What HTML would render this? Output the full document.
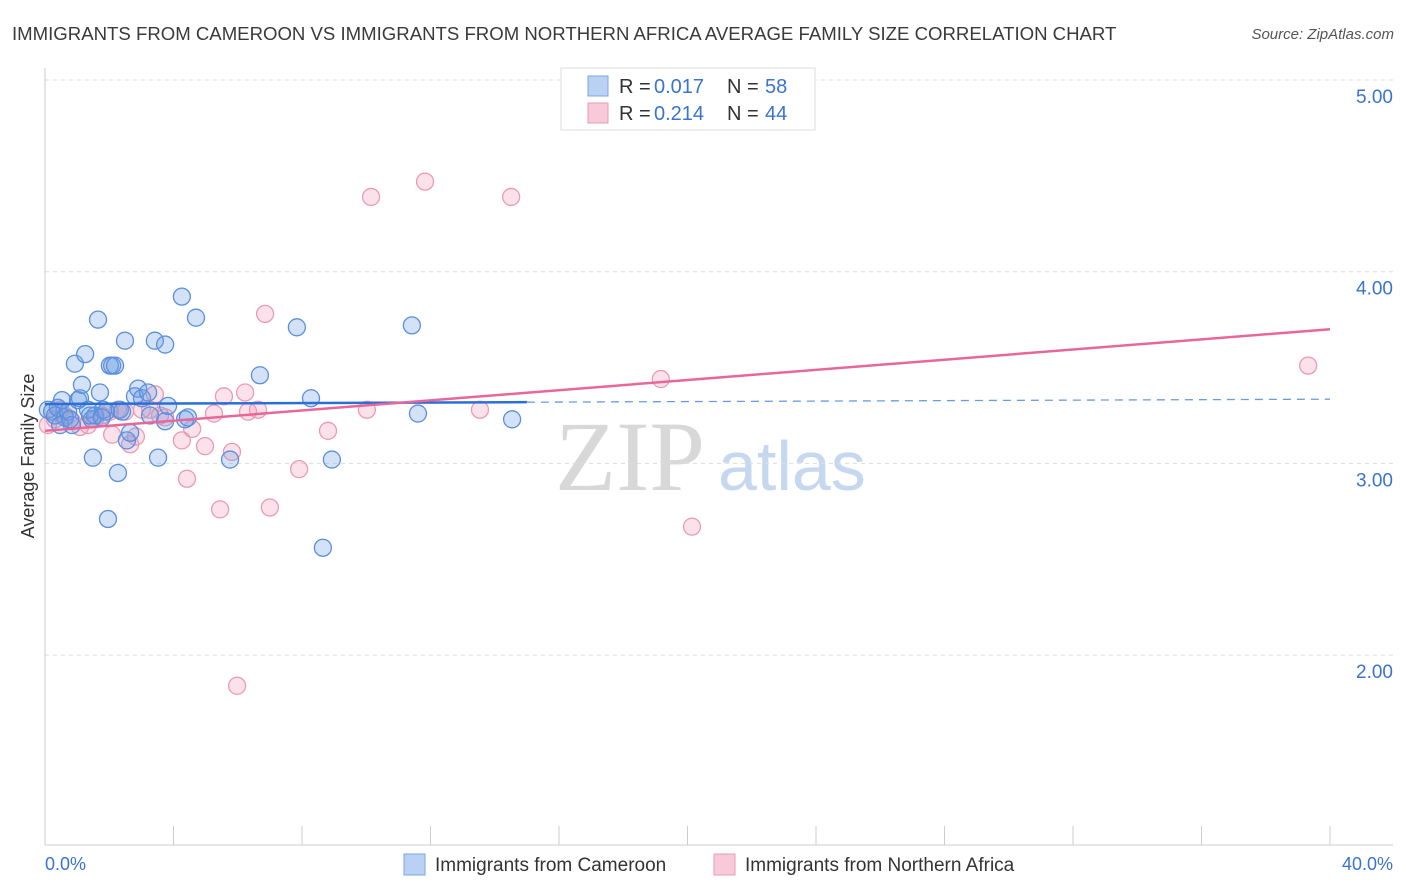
<!DOCTYPE html>
<html><head><meta charset="utf-8"><style>
body{margin:0;background:#fff;font-family:"Liberation Sans",sans-serif;}
svg{display:block}
</style></head><body>
<svg id="chart" width="1406" height="892" xmlns="http://www.w3.org/2000/svg">
<text x="12" y="40" font-size="18.6" fill="#3a3a3a">IMMIGRANTS FROM CAMEROON VS IMMIGRANTS FROM NORTHERN AFRICA AVERAGE FAMILY SIZE CORRELATION CHART</text>
<text x="1394" y="39" font-size="15" fill="#555" font-style="italic" text-anchor="end">Source: ZipAtlas.com</text>
<text x="555" y="490" font-size="100" fill="#d8d8d8" font-family="Liberation Serif,serif">ZIP</text>
<text x="718" y="490" font-size="70" fill="#c6d8f0">atlas</text>
<text transform="translate(34,456) rotate(-90)" font-size="18" fill="#333" text-anchor="middle">Average Family Size</text>
<g id="grid"></g><g id="marks"></g>
<g>
<rect x="561" y="68" width="254" height="62" fill="#fff" stroke="#ddd"/>
<rect x="588" y="76" width="20" height="20" fill="#b9d1f3" stroke="#7aa5e5"/>
<text x="619" y="93" font-size="20" fill="#333">R =</text>
<text x="654" y="93" font-size="20" fill="#3b73d0">0.017</text>
<text x="727" y="93" font-size="20" fill="#333">N =</text>
<text x="765" y="93" font-size="20" fill="#3b73d0">58</text>
<rect x="588" y="103" width="20" height="20" fill="#f8c9d8" stroke="#ea9ab6"/>
<text x="619" y="120" font-size="20" fill="#333">R =</text>
<text x="654" y="120" font-size="20" fill="#3b73d0">0.214</text>
<text x="727" y="120" font-size="20" fill="#333">N =</text>
<text x="765" y="120" font-size="20" fill="#3b73d0">44</text>
</g>
<g>
<rect x="404" y="854" width="21" height="21" fill="#b9d1f3" stroke="#7aa5e5"/>
<text x="435" y="871" font-size="19" fill="#333">Immigrants from Cameroon</text>
<rect x="714" y="854" width="21" height="21" fill="#f8c9d8" stroke="#ea9ab6"/>
<text x="745" y="871" font-size="19" fill="#333">Immigrants from Northern Africa</text>
</g>
<text x="45" y="870" font-size="18" fill="#3b73d0">0.0%</text>
<text x="1393" y="870" font-size="18" fill="#3b73d0" text-anchor="end">40.0%</text>
</svg>
<script>
const yTicks=[5,4,3,2];
const yTickLabels=["5.00","4.00","3.00","2.00"];
const blueX=[0.09,0.22,0.31,0.40,0.53,0.62,0.72,0.84,0.93,1.03,1.09,1.15,1.25,1.34,1.46,1.49,1.56,1.65,1.71,1.81,1.90,1.96,2.02,2.09,2.18,2.27,2.33,2.49,2.55,2.65,2.80,2.90,3.02,3.21,3.27,3.42,3.52,3.74,3.74,3.83,4.26,4.36,4.45,4.70,5.76,6.69,7.84,8.28,8.65,8.93,11.42,11.61,14.54,0.47,0.78,1.40,1.77,2.40];
const blueY=[3.28,3.27,3.25,3.29,3.33,3.24,3.27,3.20,3.52,3.33,3.34,3.41,3.57,3.28,3.23,3.03,3.25,3.75,3.37,3.28,3.27,2.71,3.51,3.51,3.51,2.95,3.28,3.64,3.12,3.16,3.35,3.39,3.34,3.37,3.25,3.64,3.03,3.62,3.22,3.30,3.87,3.23,3.24,3.76,3.02,3.46,3.71,3.34,2.56,3.02,3.72,3.26,3.23,3.20,3.23,3.25,3.24,3.27];
const pinkX=[0.09,0.31,0.62,0.84,1.09,1.34,1.56,1.77,2.02,2.09,2.27,2.49,2.65,2.83,3.02,3.27,3.42,3.58,3.74,4.26,4.42,4.58,4.98,5.26,5.45,5.57,5.82,5.98,6.23,6.32,6.63,6.85,7.00,7.91,8.81,10.02,10.15,11.83,13.54,14.51,19.17,20.14,39.32,0.47];
const pinkY=[3.20,3.23,3.25,3.22,3.19,3.20,3.23,3.25,3.27,3.15,3.28,3.27,3.10,3.14,3.28,3.28,3.36,3.25,3.24,3.12,2.92,3.18,3.09,3.26,2.76,3.35,3.06,1.84,3.37,3.27,3.28,3.78,2.77,2.97,3.17,3.28,4.39,4.47,3.28,4.39,3.44,2.67,3.51,3.28];
const blueTrend=[3.31,3.335];
const pinkTrend=[3.17,3.70];
const NS="http://www.w3.org/2000/svg";
function sx(v){return 45+v/40*1285;}
function sy(v){return 80+(5-v)*191.7;}
function mk(tag,attrs,parent){const e=document.createElementNS(NS,tag);for(const k in attrs)e.setAttribute(k,attrs[k]);parent.appendChild(e);return e;}
const grid=document.getElementById('grid'),marks=document.getElementById('marks');
yTicks.forEach((t,i)=>{
 const l=mk('line',{x1:45,x2:1393,y1:sy(t),y2:sy(t),stroke:'#ddd','stroke-dasharray':'4,4'},grid);
 
 
 const tx=mk('text',{x:1393,y:sy(t)+23,'font-size':19,fill:'#3b73d0','text-anchor':'end'},grid);
 tx.textContent=yTickLabels[i];
 
 
});
const ax=mk('line',{x1:45,x2:1393,y1:845,y2:845,stroke:'#ccc'},grid);


const ay=mk('line',{x1:45,x2:45,y1:68,y2:845,stroke:'#ccc'},grid);


for(let i=0;i<=10;i++){
 const t=mk('line',{x1:sx(i*4),x2:sx(i*4),y1:826,y2:845,stroke:'#ccc'},grid);
 
 
}
pinkX.forEach((x,i)=>{
 const c=mk('circle',{cx:sx(x),cy:sy(pinkY[i]),r:8.5,fill:'rgba(240,150,180,0.28)',stroke:'#eb9ab6','stroke-width':1.3},marks);
 
 
});
blueX.forEach((x,i)=>{
 const c=mk('circle',{cx:sx(x),cy:sy(blueY[i]),r:8.5,fill:'rgba(110,160,230,0.3)',stroke:'#5b8fdd','stroke-width':1.3},marks);
 
 
});
const bAt=x=>blueTrend[0]+(blueTrend[1]-blueTrend[0])*x/40;
const b1=mk('line',{x1:sx(0),y1:sy(bAt(0)),x2:sx(15),y2:sy(bAt(15)),stroke:'#2a6fd6','stroke-width':2.5},marks);


const b2=mk('line',{x1:sx(15),y1:sy(bAt(15)),x2:sx(40),y2:sy(bAt(40)),stroke:'#6a9ae0','stroke-width':1.3,'stroke-dasharray':'8,6'},marks);


const p1=mk('line',{x1:sx(0),y1:sy(pinkTrend[0]),x2:sx(40),y2:sy(pinkTrend[1]),stroke:'#e8679a','stroke-width':2.5},marks);


</script>
</body></html>
